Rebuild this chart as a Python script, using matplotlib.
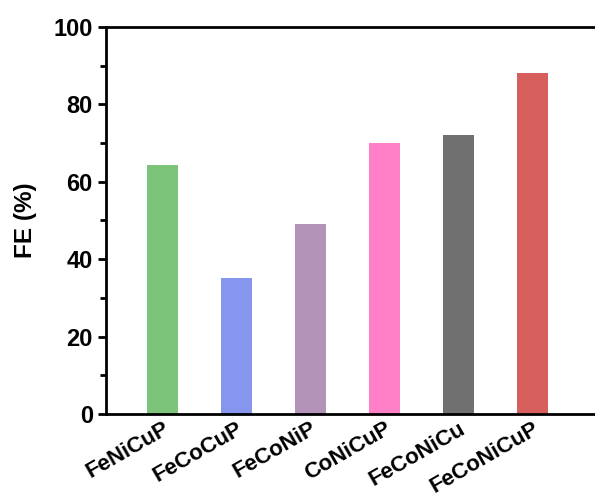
import numpy as np
import matplotlib
matplotlib.use('Agg')
import matplotlib.pyplot as plt
from matplotlib import ticker

plt.rcParams['font.family'] = ['Liberation Sans', 'DejaVu Sans']
plt.rcParams['font.weight'] = 'bold'

names = ['FeNiCuP', 'FeCoCuP', 'FeCoNiP', 'CoNiCuP', 'FeCoNiCu', 'FeCoNiCuP']
fe = [64.3, 35.2, 49.0, 70.0, 72.1, 88.0]
colors = ['#7DC47B', '#8695EE', '#B493B9', '#FF80C6', '#707070', '#D65F5E']

W = 600.0  # axes width in px, runs past the right edge like the original crop
fig = plt.figure(figsize=(5.95, 4.95), dpi=100)
ax = fig.add_axes([106/595, 81/495, W/595, 387/495])

x = np.arange(1, len(names) + 1)
ax.bar(x, fe, width=0.42, color=colors)

ax.set_xlim(0.24, 0.24 + W/74.0)
ax.set_ylim(0, 100)
ax.set_yticks(range(0, 101, 20))
ax.yaxis.set_minor_locator(ticker.MultipleLocator(10))
ax.set_xticks(x)
ax.set_xticklabels(names, rotation=30, ha='right', rotation_mode='anchor')

for s in ax.spines.values():
    s.set_linewidth(2)
ax.spines['right'].set_visible(False)
ax.tick_params(axis='y', which='major', direction='out', length=6, width=2, labelsize=17)
ax.tick_params(axis='y', which='minor', direction='out', length=4, width=2)
ax.tick_params(axis='x', length=0, labelsize=16, pad=3)
for lab in ax.get_xticklabels() + ax.get_yticklabels():
    lab.set_fontweight('bold')

ax.set_ylabel('FE (%)', fontsize=17.5, fontweight='bold', labelpad=12)

fig.savefig('out.png', dpi=100)
